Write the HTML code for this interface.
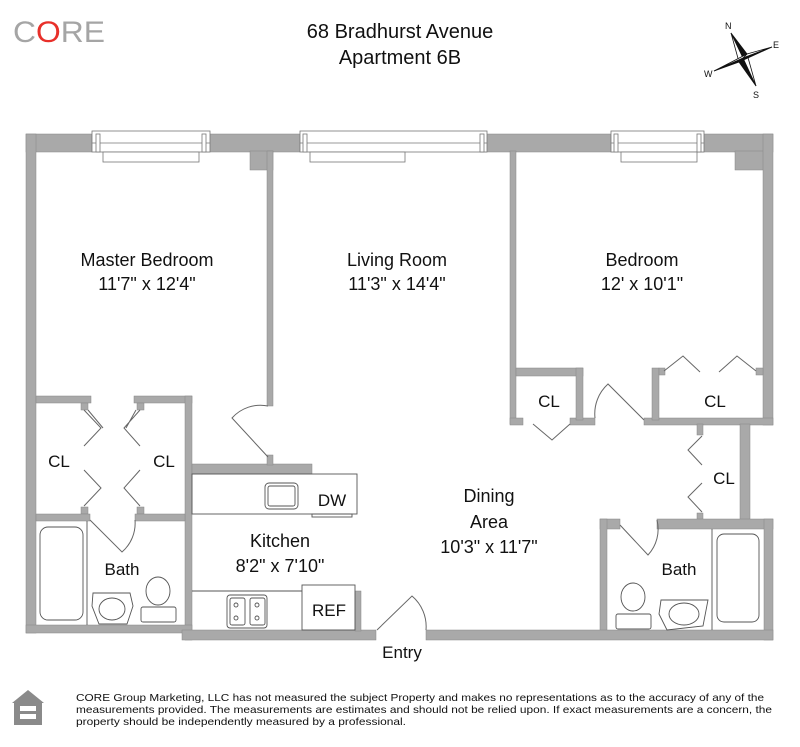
<!DOCTYPE html>
<html><head><meta charset="utf-8"><style>
html,body{margin:0;padding:0;background:#fff;}
svg{display:block}
text{font-family:"Liberation Sans",sans-serif;fill:#111}
</style></head><body>
<svg width="800" height="747" viewBox="0 0 800 747" xmlns="http://www.w3.org/2000/svg">
<text x="13" y="42" font-size="30" style="fill:#a5a5a5" textLength="92" lengthAdjust="spacingAndGlyphs">C<tspan style="fill:#e8302a">O</tspan>RE</text>
<text x="400" y="38" font-size="20" text-anchor="middle">68 Bradhurst Avenue</text>
<text x="400" y="64" font-size="20" text-anchor="middle">Apartment 6B</text>
<g stroke="#111" stroke-width="0.8">
<polygon points="731,33 747,54 743,58" fill="#111"/><polygon points="731,33 739,62 743,58" fill="#fff"/>
<polygon points="756,86 739,62 743,58" fill="#111"/><polygon points="756,86 747,54 743,58" fill="#fff"/>
<polygon points="772,47 747,54 743,58" fill="#fff"/><polygon points="772,47 739,62 743,58" fill="#111"/>
<polygon points="714,71 739,62 743,58" fill="#111"/><polygon points="714,71 747,54 743,58" fill="#fff"/>
</g>
<text x="725" y="29" font-size="9" font-family="Liberation Serif">N</text>
<text x="773" y="48" font-size="9" font-family="Liberation Serif">E</text>
<text x="704" y="77" font-size="9" font-family="Liberation Serif">W</text>
<text x="753" y="98" font-size="9" font-family="Liberation Serif">S</text>

<g fill="#a9a9a9" stroke="#888" stroke-width="0.5">
<rect x="26" y="134" width="66" height="18"/>
<rect x="205" y="134" width="95" height="18"/>
<rect x="480" y="134" width="134" height="18"/>
<rect x="700" y="134" width="73" height="18"/>
<rect x="250" y="151" width="23" height="19"/>
<rect x="735" y="151" width="29" height="19"/>
<rect x="26" y="134" width="10" height="499"/>
<rect x="763" y="134" width="10" height="291"/>
<rect x="267" y="151" width="6" height="255"/>
<rect x="510" y="151" width="6" height="273"/>
<rect x="510" y="418" width="13" height="7"/>
<rect x="570" y="418" width="25" height="7"/>
<rect x="644" y="418" width="129" height="7"/>
<rect x="516" y="368" width="67" height="8"/>
<rect x="576" y="368" width="7" height="52"/>
<rect x="652" y="368" width="7" height="52"/>
<rect x="659" y="368" width="6" height="7"/>
<rect x="756" y="368" width="7" height="7"/>
<rect x="740" y="424" width="10" height="96"/>
<rect x="697" y="424" width="6" height="11"/>
<rect x="697" y="513" width="6" height="7"/>
<rect x="657" y="519" width="116" height="10"/>
<rect x="600" y="519" width="20" height="10"/>
<rect x="600" y="519" width="7" height="115"/>
<rect x="764" y="519" width="9" height="121"/>
<rect x="426" y="630" width="347" height="10"/>
<rect x="36" y="396" width="55" height="7"/>
<rect x="134" y="396" width="58" height="7"/>
<rect x="81" y="403" width="7" height="7"/>
<rect x="137" y="403" width="7" height="7"/>
<rect x="81" y="507" width="7" height="7"/>
<rect x="137" y="507" width="7" height="7"/>
<rect x="185" y="396" width="7" height="244"/>
<rect x="36" y="514" width="54" height="7"/>
<rect x="135" y="514" width="50" height="7"/>
<rect x="26" y="625" width="166" height="8"/>
<rect x="192" y="464" width="120" height="10"/>
<rect x="267" y="455" width="6" height="10"/>
<rect x="182" y="630" width="194" height="10"/>
<rect x="355" y="591" width="6" height="40"/>
</g>

<g fill="#fff" stroke="#777" stroke-width="0.8">
<rect x="92" y="131" width="118" height="21"/><line x1="92" y1="143" x2="210" y2="143"/><rect x="96" y="134" width="4" height="18"/><rect x="202" y="134" width="4" height="18"/><rect x="103" y="152" width="96" height="10"/>
<rect x="300" y="131" width="187" height="21"/><line x1="300" y1="143" x2="487" y2="143"/><rect x="303" y="134" width="4" height="18"/><rect x="480" y="134" width="4" height="18"/><rect x="310" y="152" width="95" height="10"/>
<rect x="611" y="131" width="93" height="21"/><line x1="611" y1="143" x2="704" y2="143"/><rect x="614" y="134" width="4" height="18"/><rect x="697" y="134" width="4" height="18"/><rect x="621" y="152" width="76" height="10"/>
</g>

<g fill="none" stroke="#666" stroke-width="1">
<path d="M84 410 L101 428 L84 446 M88 410 L103 428 M140 410 L124 428 L140 446 M136 410 L126 428 M84 470 L101 488 L84 506 M140 470 L124 488 L140 506"/>
<path d="M268 406 A38 38 0 0 0 232 418 L268 457"/>
<path d="M90 520 L122 552 A38 38 0 0 0 135 520"/>
<path d="M533 424 L552 440 L570 424"/>
<path d="M644 420 L608 384 A40 40 0 0 0 595 418"/>
<path d="M664 371 L683 356 L700 372 M719 372 L737 356 L756 371"/>
<path d="M702 436 L688 450 L702 465 M702 483 L688 497 L702 512"/>
<path d="M620 525 L648 555 A38 38 0 0 0 657 520"/>
<path d="M377 630 L412 596 A40 40 0 0 1 426 630"/>
</g>

<g fill="none" stroke="#555" stroke-width="0.9">
<rect x="192" y="474" width="165" height="40"/>
<rect x="265" y="483" width="33" height="26" rx="4"/><rect x="268" y="486" width="27" height="20" rx="2"/>
<rect x="312" y="514" width="40" height="3"/>
<line x1="192" y1="591" x2="302" y2="591"/>
<rect x="302" y="585" width="53" height="45"/>
<rect x="227" y="595" width="40" height="33" rx="3"/>
<rect x="230" y="598" width="15" height="27" rx="2"/><rect x="250" y="598" width="15" height="27" rx="2"/>
<circle cx="236" cy="605" r="2"/><circle cx="236" cy="618" r="2"/><circle cx="257" cy="605" r="2"/><circle cx="257" cy="618" r="2"/>
<line x1="87" y1="521" x2="87" y2="625"/>
<rect x="40" y="527" width="43" height="93" rx="8"/>
<path d="M93 593 L130 593 L133 606 L127 624 L99 624 L92 606Z"/><ellipse cx="112" cy="609" rx="13" ry="11"/>
<ellipse cx="158" cy="591" rx="12" ry="14"/><rect x="141" y="607" width="35" height="15" rx="2"/>
<line x1="712" y1="529" x2="712" y2="630"/>
<rect x="717" y="534" width="42" height="88" rx="7"/>
<path d="M661 600 L708 600 L703 626 L667 630 L659 614Z"/><ellipse cx="684" cy="614" rx="15" ry="11"/>
<ellipse cx="633" cy="597" rx="12" ry="14"/><rect x="616" y="614" width="35" height="15" rx="2"/>
</g>

<g font-size="18" text-anchor="middle">
<text x="147" y="266">Master Bedroom</text><text x="147" y="290">11'7" x 12'4"</text>
<text x="397" y="266">Living Room</text><text x="397" y="290">11'3" x 14'4"</text>
<text x="642" y="266">Bedroom</text><text x="642" y="290">12' x 10'1"</text>
<text x="489" y="502">Dining</text><text x="489" y="528">Area</text><text x="489" y="553">10'3" x 11'7"</text>
<text x="280" y="547">Kitchen</text><text x="280" y="572">8'2" x 7'10"</text>
<text x="122" y="575" font-size="17">Bath</text>
<text x="679" y="575" font-size="17">Bath</text>
<text x="402" y="658" font-size="17">Entry</text>
<text x="59" y="467" font-size="17">CL</text><text x="164" y="467" font-size="17">CL</text>
<text x="549" y="407" font-size="17">CL</text><text x="715" y="407" font-size="17">CL</text>
<text x="724" y="484" font-size="17">CL</text>
<text x="332" y="506" font-size="17">DW</text>
<text x="329" y="616" font-size="17">REF</text>
</g>

<polygon points="12,703 28,690 44,703 42,703 42,725 14,725 14,703" fill="#8a8a8a"/>
<rect x="20" y="706" width="16" height="5" fill="#fff"/><rect x="20" y="714" width="16" height="5" fill="#fff"/>
<g font-size="10.5">
<text x="76" y="701" textLength="688" lengthAdjust="spacingAndGlyphs">CORE Group Marketing, LLC has not measured the subject Property and makes no representations as to the accuracy of any of the</text>
<text x="76" y="713" textLength="696" lengthAdjust="spacingAndGlyphs">measurements provided. The measurements are estimates and should not be relied upon. If exact measurements are a concern, the</text>
<text x="76" y="725" textLength="330" lengthAdjust="spacingAndGlyphs">property should be independently measured by a professional.</text>
</g>
</svg>
</body></html>
